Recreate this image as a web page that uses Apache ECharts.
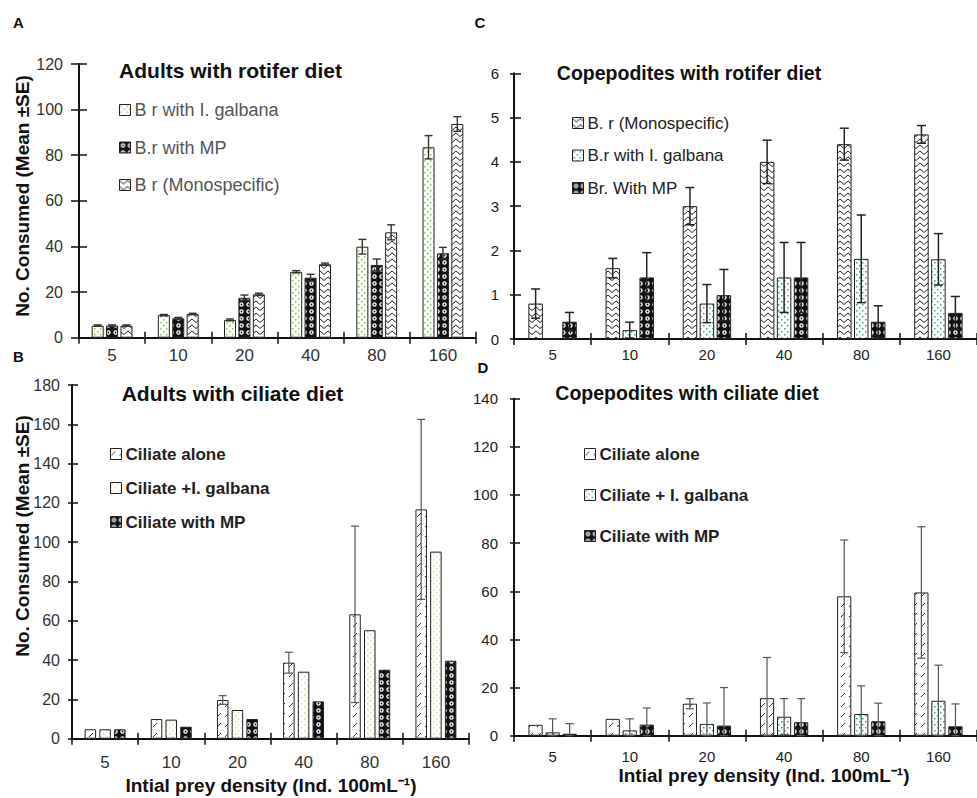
<!DOCTYPE html>
<html><head><meta charset="utf-8">
<script src="https://cdn.jsdelivr.net/npm/echarts@6/dist/echarts.min.js"></script>
<style>html,body{margin:0;padding:0;background:#fff}#chart{width:977px;height:798px}</style>
</head><body><div id="chart"></div>
<script>
// ---------- data ----------
const categories = ['5', '10', '20', '40', '80', '160'];

// Panel A: Adults with rotifer diet
const aGalbana = [5.3, 9.9, 7.8, 28.9, 39.9, 83.5];
const aGalbanaErr = [0.3, 0.3, 0.4, 0.5, 3.2, 5.1];
const aMP = [5.3, 8.5, 17.5, 26.3, 31.9, 37.0];
const aMPErr = [0.3, 0.4, 1.2, 1.5, 2.6, 2.6];
const aMono = [5.3, 10.4, 19.0, 32.2, 46.2, 93.7];
const aMonoErr = [0.3, 0.3, 0.5, 0.5, 3.3, 3.2];

// Panel B: Adults with ciliate diet
const bAlone = [4.8, 10.0, 19.7, 38.7, 63.3, 116.7];
const bAloneErr = [0, 0, 2.2, 5.3, 44.9, 45.8];
const bGalbana = [4.8, 9.7, 14.6, 34.1, 55.2, 95.2];
const bGalbanaErr = [0, 0, 0, 0, 0, 0];
const bMP = [4.8, 6.1, 10.0, 19.0, 35.1, 39.7];
const bMPErr = [0, 0, 0, 0, 0, 0];

// Panel C: Copepodites with rotifer diet
const cMono = [0.8, 1.6, 3.0, 4.0, 4.4, 4.62];
const cMonoErr = [0.33, 0.22, 0.42, 0.49, 0.36, 0.2];
const cGalbana = [0, 0.2, 0.8, 1.39, 1.81, 1.8];
const cGalbanaErr = [0, 0.18, 0.43, 0.79, 0.99, 0.58];
const cMP = [0.39, 1.39, 0.99, 1.39, 0.39, 0.59];
const cMPErr = [0.21, 0.56, 0.58, 0.79, 0.36, 0.37];

// Panel D: Copepodites with ciliate diet
const dAlone = [4.5, 7.0, 13.3, 15.6, 57.9, 59.5];
const dAloneErr = [0, 0, 2.1, 16.9, 23.4, 27.3];
const dGalbana = [1.4, 2.2, 4.9, 7.9, 9.0, 14.5];
const dGalbanaErr = [5.6, 4.8, 8.7, 7.5, 11.7, 14.8];
const dMP = [0.8, 4.6, 4.2, 5.6, 6.0, 3.9];
const dMPErr = [4.2, 6.9, 15.8, 9.8, 7.5, 9.3];

// ---------- patterns ----------
function pattern(kind) {
  const c = document.createElement('canvas');
  const g = c.getContext('2d');
  if (kind === 'zigzag') {
    c.width = 8; c.height = 6;
    g.fillStyle = '#fff'; g.fillRect(0, 0, 8, 6);
    g.strokeStyle = '#222'; g.lineWidth = 1;
    g.beginPath(); g.moveTo(0, 1); g.lineTo(4, 4.5); g.lineTo(8, 1); g.stroke();
  } else if (kind === 'dotsGreen' || kind === 'dotsPale' || kind === 'dotsTeal') {
    c.width = 6; c.height = 6;
    g.fillStyle = '#fff'; g.fillRect(0, 0, 6, 6);
    g.fillStyle = kind === 'dotsGreen' ? '#86c653' : (kind === 'dotsPale' ? '#d3e3a0' : '#3fa383');
    g.fillRect(1, 1, 1.5, 1.5); g.fillRect(4, 4, 1.5, 1.5);
  } else if (kind === 'circles') {
    c.width = 7; c.height = 7;
    g.fillStyle = '#111'; g.fillRect(0, 0, 7, 7);
    g.fillStyle = '#fff'; g.beginPath(); g.arc(3.5, 3.5, 2.2, 0, Math.PI * 2); g.fill();
    g.fillStyle = '#111'; g.beginPath(); g.arc(3.5, 3.5, 0.9, 0, Math.PI * 2); g.fill();
  } else if (kind === 'hatch') {
    c.width = 8; c.height = 10;
    g.fillStyle = '#fff'; g.fillRect(0, 0, 8, 10);
    g.strokeStyle = '#333'; g.lineWidth = 1;
    g.beginPath(); g.moveTo(1, 7); g.lineTo(5, 3); g.stroke();
  }
  return { image: c, repeat: 'repeat' };
}

const FONT = '"Liberation Sans", Arial, sans-serif';

const panels = [
  { grid: { left: 79, top: 64, width: 397, height: 273.7 }, max: 120, interval: 20,
    yLabelSize: 16, yLabelMargin: 16, yTickOut: 8, yTickIn: 8, xLabelSize: 17, xLabelMargin: 9, labelColor: '#333',
    barWidth: 12, barGap: '20%', errColor: '#333', errWidth: 1.4, cap: 8,
    series: [
      { name: 'B r with I. galbana', data: aGalbana, err: aGalbanaErr, pat: 'dotsGreen' },
      { name: 'B.r with MP', data: aMP, err: aMPErr, pat: 'circles' },
      { name: 'B r (Monospecific)', data: aMono, err: aMonoErr, pat: 'zigzag' }
    ],
    legend: { left: 114, top: 96, itemGap: 19.5, fontSize: 18, fontWeight: 'normal', color: '#555' } },
  { grid: { left: 72, top: 385, width: 397, height: 353.7 }, max: 180, interval: 20,
    yLabelSize: 16, yLabelMargin: 12, yTickOut: 4, yTickIn: 6, xLabelSize: 17, xLabelMargin: 15, labelColor: '#333',
    barWidth: 11.5, barGap: '28%', errColor: '#555', errWidth: 1.2, cap: 8,
    series: [
      { name: 'Ciliate alone', data: bAlone, err: bAloneErr, pat: 'hatch' },
      { name: 'Ciliate +I. galbana', data: bGalbana, err: bGalbanaErr, pat: 'dotsPale' },
      { name: 'Ciliate with MP', data: bMP, err: bMPErr, pat: 'circles' }
    ],
    legend: { left: 105, top: 440, itemGap: 16, fontSize: 17, fontWeight: 'bold', color: '#222' } },
  { grid: { left: 514, top: 73.3, width: 466, height: 265.7 }, max: 6, interval: 1,
    yLabelSize: 15, yLabelMargin: 15, yTickOut: 4, yTickIn: 7, xLabelSize: 15, xLabelMargin: 8, labelColor: '#222',
    barWidth: 14.5, barGap: '17%', errColor: '#222', errWidth: 1.5, cap: 9,
    series: [
      { name: 'B. r (Monospecific)', data: cMono, err: cMonoErr, pat: 'zigzag' },
      { name: 'B.r with I. galbana', data: cGalbana, err: cGalbanaErr, pat: 'dotsTeal' },
      { name: 'Br. With MP', data: cMP, err: cMPErr, pat: 'circles' }
    ],
    legend: { left: 567, top: 109, itemGap: 14.5, fontSize: 17, fontWeight: 'normal', color: '#222' } },
  { grid: { left: 514, top: 398.7, width: 470, height: 337 }, max: 140, interval: 20,
    yLabelSize: 15, yLabelMargin: 16, yTickOut: 4, yTickIn: 6, xLabelSize: 15, xLabelMargin: 13, labelColor: '#222',
    barWidth: 14.2, barGap: '20%', errColor: '#555', errWidth: 1.2, cap: 8,
    series: [
      { name: 'Ciliate alone', data: dAlone, err: dAloneErr, pat: 'hatch' },
      { name: 'Ciliate + I. galbana', data: dGalbana, err: dGalbanaErr, pat: 'dotsTeal' },
      { name: 'Ciliate with MP', data: dMP, err: dMPErr, pat: 'circles' }
    ],
    legend: { left: 579, top: 440, itemGap: 23, fontSize: 17, fontWeight: 'bold', color: '#222' } }
];

const grids = [], xAxes = [], yAxes = [], series = [], legends = [];
const axisLineStyle = { color: '#111', width: 2 };

panels.forEach((p, pi) => {
  grids.push(Object.assign({ containLabel: false }, p.grid));
  xAxes.push({ type: 'category', gridIndex: pi, data: categories, boundaryGap: true,
    axisLine: { lineStyle: axisLineStyle },
    axisTick: { show: true, length: 6, lineStyle: { color: '#111', width: 1.5 } },
    axisLabel: { fontSize: p.xLabelSize, fontFamily: FONT, color: p.labelColor, margin: p.xLabelMargin },
    splitLine: { show: false } });
  yAxes.push({ type: 'value', gridIndex: pi, min: 0, max: p.max, interval: p.interval,
    axisLine: { show: true, lineStyle: axisLineStyle },
    axisTick: { show: true, length: p.yTickOut, lineStyle: { color: '#111', width: 1.5 } },
    axisLabel: { fontSize: p.yLabelSize, fontFamily: FONT, color: p.labelColor, margin: p.yLabelMargin },
    splitLine: { show: false } });
});
// overlay grids for inside-tick halves (ticks cross the axis)
panels.forEach((p, pi) => {
  const gi = pi + 4;
  grids.push(Object.assign({ containLabel: false }, p.grid));
  xAxes.push({ type: 'category', gridIndex: gi, data: categories, boundaryGap: true,
    axisLine: { show: false }, axisLabel: { show: false }, splitLine: { show: false },
    axisTick: { show: true, inside: true, length: 6, lineStyle: { color: '#111', width: 1.5 } } });
  yAxes.push({ type: 'value', gridIndex: gi, min: 0, max: p.max, interval: p.interval,
    axisLine: { show: false }, axisLabel: { show: false }, splitLine: { show: false },
    axisTick: { show: true, inside: true, length: p.yTickIn, lineStyle: { color: '#111', width: 1.5 } } });
});

panels.forEach((p, pi) => {
  const n = p.series.length;
  const gapFrac = parseFloat(p.barGap) / 100;
  p.series.forEach((s, si) => {
    series.push({ type: 'bar', name: s.name, xAxisIndex: pi, yAxisIndex: pi, data: s.data,
      barWidth: p.barWidth, barGap: p.barGap, silent: true, z: 2,
      itemStyle: { color: pattern(s.pat), borderColor: '#222', borderWidth: 1 } });
  });
  p.series.forEach((s, si) => {
    series.push({ type: 'custom', name: s.name + ' error', xAxisIndex: pi, yAxisIndex: pi, silent: true, z: 5,
      data: categories.map((c, i) => [i, s.data[i], s.err[i]]),
      encode: { x: 0, y: 1 },
      renderItem: function (params, api) {
        const ci = api.value(0), v = api.value(1), e = api.value(2);
        if (!(e > 0)) return null;
        const w = p.barWidth;
        const total = n * w + (n - 1) * gapFrac * w;
        const base = api.coord([ci, 0]);
        const x = base[0] - total / 2 + w / 2 + si * w * (1 + gapFrac);
        const yT = api.coord([ci, v + e])[1];
        const yB = api.coord([ci, Math.max(v - e, 0)])[1];
        const h = p.cap / 2;
        const st = { stroke: p.errColor, lineWidth: p.errWidth };
        return { type: 'group', children: [
          { type: 'line', shape: { x1: x, y1: yT, x2: x, y2: yB }, style: st },
          { type: 'line', shape: { x1: x - h, y1: yT, x2: x + h, y2: yT }, style: st },
          { type: 'line', shape: { x1: x - h, y1: yB, x2: x + h, y2: yB }, style: st }
        ] };
      } });
  });
  legends.push({ orient: 'vertical', left: p.legend.left, top: p.legend.top, itemGap: p.legend.itemGap,
    itemWidth: 11, itemHeight: 11, icon: 'rect', selectedMode: false,
    data: p.series.map(s => s.name),
    itemStyle: { borderColor: '#222', borderWidth: 1 },
    textStyle: { fontSize: p.legend.fontSize, fontWeight: p.legend.fontWeight, color: p.legend.color,
      fontFamily: FONT, lineHeight: 18, padding: [0, 0, 0, -1] } });
});

function txt(text, x, y, font, opts) {
  return Object.assign({ type: 'text', x: x, y: y, silent: true, z: 10,
    style: { text: text, font: font, fill: '#111', textAlign: 'center', textVerticalAlign: 'middle' } }, opts || {});
}
const graphic = [
  txt('A', 18.5, 22, 'bold 15px ' + FONT),
  txt('B', 18.5, 356, 'bold 15px ' + FONT),
  txt('C', 480, 22, 'bold 15px ' + FONT),
  txt('D', 483, 367, 'bold 15px ' + FONT),
  txt('Adults with rotifer diet', 230.5, 70, 'bold 21px ' + FONT),
  txt('Copepodites with rotifer diet', 689, 73, 'bold 19.5px ' + FONT),
  txt('Adults with ciliate diet', 232.5, 393, 'bold 21px ' + FONT),
  txt('Copepodites with ciliate diet', 687, 393, 'bold 19.5px ' + FONT),
  txt('No. Consumed (Mean ±SE)', 22, 196, 'bold 19px ' + FONT, { rotation: Math.PI / 2 }),
  txt('No. Consumed (Mean ±SE)', 22.5, 536, 'bold 19px ' + FONT, { rotation: Math.PI / 2 }),
  txt('Intial prey density (Ind. 100mL⁻¹)', 271, 785, 'bold 19px ' + FONT),
  txt('Intial prey density (Ind. 100mL⁻¹)', 764, 775, 'bold 19px ' + FONT)
];

const chart = echarts.init(document.getElementById('chart'), null, { renderer: 'svg' });
chart.setOption({
  animation: false,
  backgroundColor: '#fff',
  grid: grids, xAxis: xAxes, yAxis: yAxes, series: series, legend: legends, graphic: graphic
});
</script></body></html>
